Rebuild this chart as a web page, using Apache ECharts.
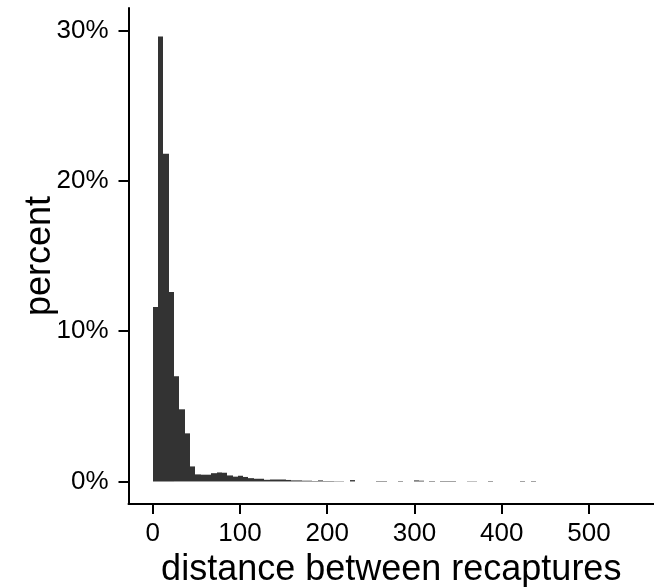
<!DOCTYPE html>
<html>
<head>
<meta charset="utf-8">
<script src="https://cdn.jsdelivr.net/npm/echarts@6/dist/echarts.min.js"></script>
<style>
  html, body { margin: 0; padding: 0; background: #fff; }
  #main { width: 654px; height: 587px; }
</style>
</head>
<body>
<div id="main"></div>
<script>
// histogram: bins start at 0, each binWidth wide
var binWidth = 6.1;
var percents = [
    11.6, 29.6, 21.8, 12.6, 7.0, 4.8, 3.2, 1.0, 0.47, 0.45,
    0.45, 0.55, 0.6, 0.58, 0.4, 0.32, 0.38, 0.3, 0.22, 0.18,
    0.18, 0.11, 0.13, 0.13, 0.13, 0.1, 0.07, 0.07, 0.05, 0.05,
    0.03, 0.07, 0.03, 0.03, 0.02, 0.02, 0, 0.09, 0, 0,
    0, 0, 0.03, 0.03, 0, 0, 0.03, 0, 0, 0.07,
    0.05, 0, 0.03, 0, 0.03, 0.03, 0.03, 0, 0, 0.02,
    0.02, 0, 0, 0.03, 0, 0, 0, 0, 0, 0.03,
    0, 0.03
];
var xTicks = [0, 100, 200, 300, 400, 500];
var yTicks = [0, 10, 20, 30];

var barColor = '#333333';
var fontFamily = '"Liberation Sans", Arial, sans-serif';

var chartDom = document.getElementById('main');
var myChart = echarts.init(chartDom);

var binData = [];
for (var i = 0; i < percents.length; i++) {
    if (percents[i] > 0) {
        binData.push([i * binWidth, (i + 1) * binWidth, percents[i]]);
    }
}

function renderBin(params, api) {
    var p0 = api.coord([api.value(0), 0]);
    var p1 = api.coord([api.value(1), api.value(2)]);
    var x0 = Math.round(p0[0]);
    var x1 = Math.round(p1[0]);
    return {
        type: 'rect',
        shape: { x: x0, y: p1[1], width: x1 - x0, height: p0[1] - p1[1] },
        style: { fill: barColor }
    };
}

var option = {
    animation: false,
    backgroundColor: '#fff',
    grid: { left: 128.5, right: 0, top: 8, bottom: 83, outerBoundsMode: 'none', containLabel: false },
    xAxis: {
        type: 'value',
        min: -27.7,
        max: 574.5,
        name: 'distance between recaptures',
        nameLocation: 'middle',
        nameGap: 44,
        nameTextStyle: { color: '#000', fontSize: 36, fontFamily: fontFamily },
        axisLine: { show: true, onZero: false, lineStyle: { color: '#000', width: 2 } },
        axisTick: { show: true, customValues: xTicks, length: 10, lineStyle: { color: '#000', width: 2 } },
        axisLabel: { customValues: xTicks, margin: 17, color: '#000', fontSize: 26, fontFamily: fontFamily },
        splitLine: { show: false }
    },
    yAxis: {
        type: 'value',
        min: -1.5,
        max: 31.5,
        name: 'percent',
        nameLocation: 'middle',
        nameGap: 70,
        nameRotate: 90,
        nameMoveOverlap: false,
        nameTextStyle: { color: '#000', fontSize: 36, fontFamily: fontFamily },
        axisLine: { show: true, onZero: false, lineStyle: { color: '#000', width: 2 } },
        axisTick: { show: true, customValues: yTicks, length: 10, lineStyle: { color: '#000', width: 2 } },
        axisLabel: {
            customValues: yTicks,
            margin: 20,
            color: '#000',
            fontSize: 26,
            fontFamily: fontFamily,
            formatter: function (v) { return v + '%'; }
        },
        splitLine: { show: false }
    },
    series: [{
        type: 'custom',
        renderItem: renderBin,
        encode: { x: [0, 1], y: 2 },
        data: binData
    }]
};

myChart.setOption(option);
</script>
</body>
</html>
